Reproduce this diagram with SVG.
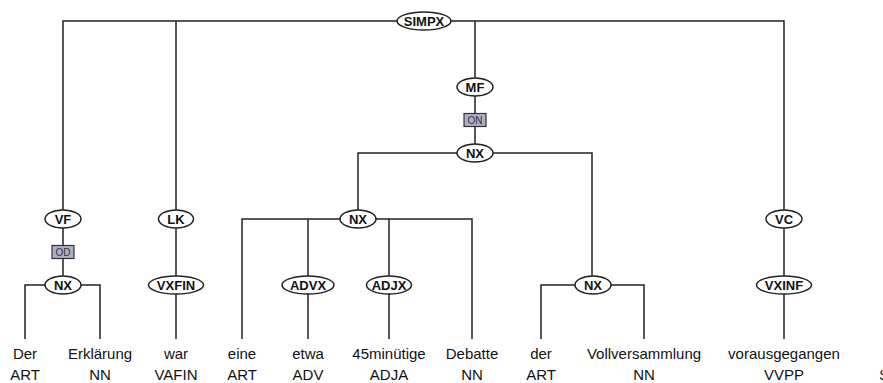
<svg xmlns="http://www.w3.org/2000/svg" width="883" height="383" viewBox="0 0 883 383">
<style>
.e{fill:#fff;stroke:#222;stroke-width:1.5}
.n{font-family:"Liberation Sans",Arial,sans-serif;font-weight:bold;font-size:13px;fill:#111;text-anchor:middle}
.c{fill:none;stroke:#222;stroke-width:1.5}
.b{fill:#aeaec8;stroke:#333;stroke-width:1.2}
.bt{font-family:"Liberation Sans",Arial,sans-serif;font-size:10px;fill:#333;text-anchor:middle}
.w{font-family:"Liberation Sans",Arial,sans-serif;font-size:15px;fill:#111;text-anchor:middle}
</style>
<rect width="883" height="383" fill="#fff"/>
<g id="connectors">
<polyline class="c" points="63,210 63,21 784,21 784,210"/>
<line class="c" x1="176" y1="21" x2="176" y2="210"/>
<line class="c" x1="475" y1="21" x2="475" y2="78"/>
<line class="c" x1="475" y1="96" x2="475" y2="144"/>
<polyline class="c" points="358,210 358,153 592,153 592,276"/>
<line class="c" x1="63" y1="228" x2="63" y2="276"/>
<polyline class="c" points="25,339 25,285 100,285 100,339"/>
<line class="c" x1="176" y1="228" x2="176" y2="276"/>
<line class="c" x1="176" y1="294" x2="176" y2="339"/>
<polyline class="c" points="242,339 242,219 472,219 472,339"/>
<line class="c" x1="308" y1="219" x2="308" y2="276"/>
<line class="c" x1="389" y1="219" x2="389" y2="276"/>
<line class="c" x1="308" y1="294" x2="308" y2="339"/>
<line class="c" x1="389" y1="294" x2="389" y2="339"/>
<polyline class="c" points="541,339 541,285 644,285 644,339"/>
<line class="c" x1="784" y1="228" x2="784" y2="276"/>
<line class="c" x1="784" y1="294" x2="784" y2="339"/>
</g>
<g id="edge-labels">
<g id="label-ON"><rect class="b" x="464" y="113.5" width="22" height="13"/><text class="bt" x="475" y="124">ON</text></g>
<g id="label-OD"><rect class="b" x="52" y="245.5" width="22" height="13"/><text class="bt" x="63" y="256">OD</text></g>
</g>
<g id="n-simpx"><ellipse class="e" cx="424" cy="21" rx="27" ry="9"/><text class="n" x="424" y="26">SIMPX</text></g>
<g id="n-mf"><ellipse class="e" cx="475" cy="87" rx="18" ry="9"/><text class="n" x="475" y="92">MF</text></g>
<g id="n-nx-on"><ellipse class="e" cx="475" cy="153" rx="18" ry="9"/><text class="n" x="475" y="158">NX</text></g>
<g id="n-vf"><ellipse class="e" cx="63" cy="219" rx="18" ry="9"/><text class="n" x="63" y="224">VF</text></g>
<g id="n-lk"><ellipse class="e" cx="176" cy="219" rx="17.5" ry="9"/><text class="n" x="176" y="224">LK</text></g>
<g id="n-nx-mid"><ellipse class="e" cx="358" cy="219" rx="18" ry="9"/><text class="n" x="358" y="224">NX</text></g>
<g id="n-vc"><ellipse class="e" cx="784" cy="219" rx="18" ry="9"/><text class="n" x="784" y="224">VC</text></g>
<g id="n-nx-od"><ellipse class="e" cx="63" cy="285" rx="18" ry="9"/><text class="n" x="63" y="290">NX</text></g>
<g id="n-vxfin"><ellipse class="e" cx="176" cy="285" rx="27.5" ry="9"/><text class="n" x="176" y="290">VXFIN</text></g>
<g id="n-advx"><ellipse class="e" cx="308" cy="285" rx="26" ry="9"/><text class="n" x="308" y="290">ADVX</text></g>
<g id="n-adjx"><ellipse class="e" cx="389" cy="285" rx="22.5" ry="9"/><text class="n" x="389" y="290">ADJX</text></g>
<g id="n-nx-right"><ellipse class="e" cx="593" cy="285" rx="18" ry="9"/><text class="n" x="593" y="290">NX</text></g>
<g id="n-vxinf"><ellipse class="e" cx="784" cy="285" rx="27.5" ry="9"/><text class="n" x="784" y="290">VXINF</text></g>
<g id="leaves">
<text class="w" x="25" y="359">Der</text><text class="w" x="25" y="380">ART</text>
<text class="w" x="100" y="359">Erklärung</text><text class="w" x="100" y="380">NN</text>
<text class="w" x="176" y="359">war</text><text class="w" x="176" y="380">VAFIN</text>
<text class="w" x="242" y="359">eine</text><text class="w" x="242" y="380">ART</text>
<text class="w" x="308" y="359">etwa</text><text class="w" x="308" y="380">ADV</text>
<text class="w" x="389" y="359">45minütige</text><text class="w" x="389" y="380">ADJA</text>
<text class="w" x="472" y="359">Debatte</text><text class="w" x="472" y="380">NN</text>
<text class="w" x="541" y="359">der</text><text class="w" x="541" y="380">ART</text>
<text class="w" x="644" y="359">Vollversammlung</text><text class="w" x="644" y="380">NN</text>
<text class="w" x="784" y="359">vorausgegangen</text><text class="w" x="784" y="380">VVPP</text>
<text class="w" x="886" y="380">$.</text>
</g>
</svg>
